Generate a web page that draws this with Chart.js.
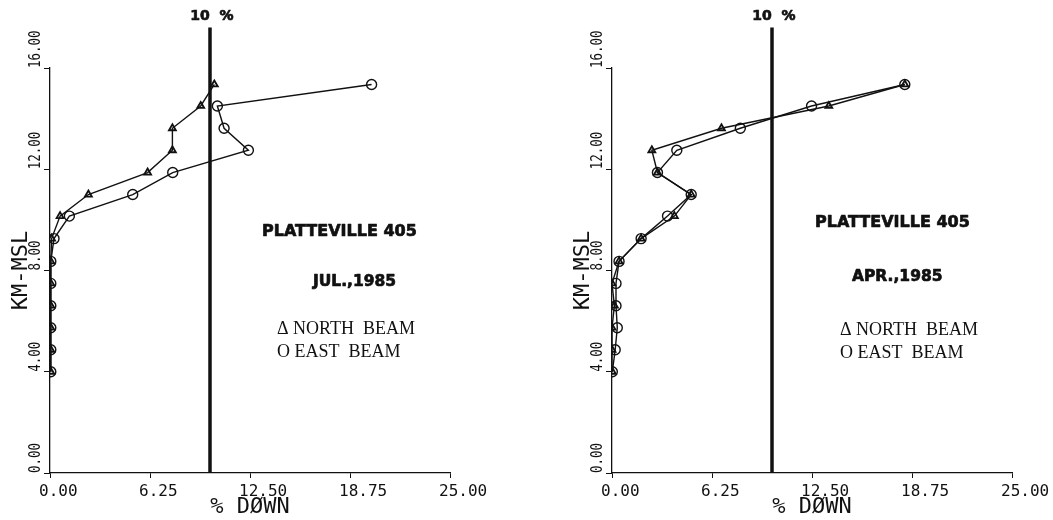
<!DOCTYPE html>
<html>
<head>
<meta charset="utf-8">
<script src="https://cdn.jsdelivr.net/npm/chart.js@4.4.1/dist/chart.umd.min.js"></script>
<style>
  html, body { margin: 0; padding: 0; background: #fff; }
  #wrap { position: relative; width: 1053px; height: 520px; }
  .panel { position: absolute; top: 0; height: 520px; }
  #left { left: 0; width: 562px; }
  #right { left: 562px; width: 491px; }
</style>
</head>
<body>
<div id="wrap">
  <div class="panel" id="left"><canvas id="julChart"></canvas></div>
  <div class="panel" id="right"><canvas id="aprChart"></canvas></div>
</div>
<script>
// radar gate heights, km above mean sea level
var heights = [4.00, 4.87, 5.74, 6.61, 7.49, 8.36, 9.26, 10.15, 11.00, 11.87, 12.75, 13.62, 14.50, 15.35];

// percent of time the beam was down at each gate
var julNorth = [0.05, 0.05, 0.05, 0.05, 0.05, 0.05, 0.10, 0.63, 2.40, 6.10, 7.65, 7.65, 9.42, 10.27];
var julEast  = [0.05, 0.05, 0.05, 0.05, 0.05, 0.05, 0.25, 1.21, 5.17, 7.67, 12.40, 10.88, 10.46, 20.10];
var aprNorth = [0.02, 0.00, 0.00, 0.15, 0.00, 0.44, 1.82, 3.90, 4.95, 2.84, 2.49, 6.84, 13.55, 18.30];
var aprEast  = [0.02, 0.20, 0.33, 0.25, 0.25, 0.44, 1.82, 3.47, 4.95, 2.84, 4.05, 8.02, 12.47, 18.30];

var xTicks = [0, 6.25, 12.5, 18.75, 25];
var yTicks = [0, 4, 8, 12, 16];

// 10 % reference line, runs a bit above the top of the height axis
var threshold = 10;
var thresholdTop = 17.6;

var INK = '#111';
var MONO = '"DejaVu Sans Mono", "Liberation Mono", monospace';

function toPoints(values) {
    return heights.map(function (h, i) {
        return { x: values[i], y: h };
    });
}

// heavy block lettering: fill plus a thin stroke
function heavyText(ctx, text, x, y) {
    ctx.fillText(text, x, y);
    ctx.strokeText(text, x, y);
}

// rotated height labels, the "10 %" tag and the station notes
var annotate = {
    id: 'annotate',
    afterDraw: function (chart, args, opts) {
        var ctx = chart.ctx;
        var xs = chart.scales.x;
        var ys = chart.scales.y;
        var area = chart.chartArea;

        ctx.save();
        ctx.fillStyle = INK;
        ctx.strokeStyle = INK;
        ctx.lineWidth = 0.7;
        ctx.lineJoin = 'round';

        // y tick labels read bottom to top, starting at the tick
        ctx.font = '12.5px ' + MONO;
        ctx.textAlign = 'left';
        ctx.textBaseline = 'middle';
        ys.ticks.forEach(function (t) {
            var py = ys.getPixelForValue(t.value);
            ctx.save();
            ctx.translate(area.left - 14, py);
            ctx.rotate(-Math.PI / 2);
            ctx.scale(1, 1.3);
            ctx.fillText(t.value.toFixed(2), 0, 0);
            ctx.restore();
        });

        // label over the reference line
        ctx.font = 'bold 14px "DejaVu Sans", sans-serif';
        ctx.textAlign = 'center';
        heavyText(ctx, '10  %', xs.getPixelForValue(threshold) + 2, ys.getPixelForValue(thresholdTop) - 11);

        // station / month block
        ctx.textAlign = 'left';
        ctx.font = 'bold 16px "DejaVu Sans", sans-serif';
        heavyText(ctx, opts.station, area.left + opts.stationAt[0], area.top + opts.stationAt[1]);
        ctx.font = 'bold 15.5px "DejaVu Sans", sans-serif';
        heavyText(ctx, opts.month, area.left + opts.monthAt[0], area.top + opts.monthAt[1]);

        ctx.font = '18px "Liberation Serif", "DejaVu Serif", serif';
        ctx.fillText('\u0394 NORTH  BEAM', area.left + opts.keyAt[0], area.top + opts.keyAt[1]);
        ctx.fillText('O EAST  BEAM', area.left + opts.keyAt[0], area.top + opts.keyAt[1] + 23);

        ctx.restore();
    }
};

function makeChart(canvasId, north, east, notes, padRight) {
    var canvas = document.getElementById(canvasId);
    return new Chart(canvas, {
        type: 'scatter',
        data: {
            datasets: [
                {
                    label: 'NORTH BEAM',
                    data: toPoints(north),
                    showLine: true,
                    borderColor: INK,
                    borderWidth: 1.4,
                    pointStyle: 'triangle',
                    pointRadius: 4,
                    pointBorderWidth: 1.8,
                    pointBorderColor: INK,
                    pointBackgroundColor: 'rgba(0,0,0,0)'
                },
                {
                    label: 'EAST BEAM',
                    data: toPoints(east),
                    showLine: true,
                    borderColor: INK,
                    borderWidth: 1.4,
                    pointStyle: 'circle',
                    pointRadius: 5,
                    pointBorderWidth: 1.4,
                    pointBorderColor: INK,
                    pointBackgroundColor: 'rgba(0,0,0,0)'
                },
                {
                    label: '10 %',
                    data: [{ x: threshold, y: 0 }, { x: threshold, y: thresholdTop }],
                    showLine: true,
                    borderColor: INK,
                    borderWidth: 3.5,
                    pointRadius: 0,
                    clip: false
                }
            ]
        },
        options: {
            responsive: true,
            maintainAspectRatio: false,
            animation: false,
            layout: { padding: { top: 68, right: padRight, bottom: 0, left: 0 } },
            plugins: {
                legend: { display: false },
                tooltip: { enabled: false },
                annotate: notes
            },
            scales: {
                x: {
                    type: 'linear',
                    min: 0,
                    max: 25,
                    afterBuildTicks: function (s) {
                        s.ticks = xTicks.map(function (v) { return { value: v }; });
                    },
                    afterFit: function (s) {
                        s.height = 47;
                        s.paddingLeft = 0;
                        s.paddingRight = 0;
                    },
                    border: { display: true, color: INK, width: 1.3 },
                    grid: { display: true, drawOnChartArea: false, drawTicks: true, tickLength: 5, color: INK, lineWidth: 1 },
                    ticks: {
                        align: 'start',
                        labelOffset: -11,
                        padding: 4,
                        maxRotation: 0,
                        minRotation: 0,
                        autoSkip: false,
                        color: INK,
                        font: { family: MONO, size: 16 },
                        callback: function (v) { return Number(v).toFixed(2); }
                    },
                    title: {
                        display: true,
                        text: '% D\u00D8WN',
                        color: INK,
                        font: { family: MONO, size: 22 },
                        padding: { top: 0, bottom: 0 }
                    }
                },
                y: {
                    type: 'linear',
                    min: 0,
                    max: 16,
                    afterBuildTicks: function (s) {
                        s.ticks = yTicks.map(function (v) { return { value: v }; });
                    },
                    afterFit: function (s) {
                        s.width = 50;
                        s.paddingTop = 0;
                        s.paddingBottom = 0;
                    },
                    border: { display: true, color: INK, width: 1.3 },
                    grid: { display: true, drawOnChartArea: false, drawTicks: true, tickLength: 6, color: INK, lineWidth: 1 },
                    ticks: { display: false },
                    title: {
                        display: true,
                        text: 'KM-MSL',
                        color: INK,
                        font: { family: MONO, size: 22 },
                        padding: { top: 8, bottom: 0 }
                    }
                }
            }
        },
        plugins: [annotate]
    });
}

makeChart('julChart', julNorth, julEast, {
    station: 'PLATTEVILLE 405',
    month: 'JUL.,1985',
    stationAt: [212, 164],
    monthAt: [263, 214],
    keyAt: [227, 261]
}, 112);

makeChart('aprChart', aprNorth, aprEast, {
    station: 'PLATTEVILLE 405',
    month: 'APR.,1985',
    stationAt: [203, 155],
    monthAt: [240, 209],
    keyAt: [228, 262]
}, 41);
</script>
</body>
</html>
